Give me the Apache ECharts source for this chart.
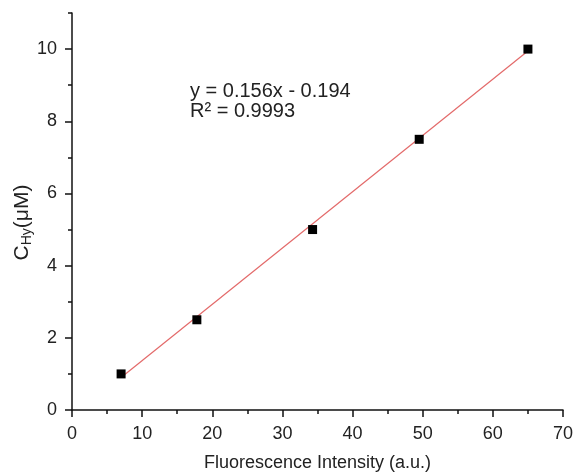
<!DOCTYPE html>
<html>
<head>
<meta charset="utf-8">
<script src="https://cdn.jsdelivr.net/npm/echarts@6/dist/echarts.min.js"></script>
<style>html,body{margin:0;padding:0;background:#fff}#c{width:577px;height:474px}</style>
</head>
<body>
<div id="c"></div>
<script>
const intensity = [7, 17.8, 34.3, 49.5, 65];
const concentration = [1, 2.5, 5, 7.5, 10];
const fitX = [7, 65];
const fitY = [0.898, 9.946];
const xTicks = [0, 10, 20, 30, 40, 50, 60, 70];
const yTicks = [0, 2, 4, 6, 8, 10];
const equationText = 'y = 0.156x - 0.194';
const r2Text = 'R² = 0.9993';

const FONT = '"Liberation Sans", Arial, sans-serif';
const chart = echarts.init(document.getElementById('c'), null, {renderer: 'canvas'});
const axisColor = '#111';
const gridLeft = 72, gridRight = 14, gridTop = 13, gridBottom = 64;
const plotH = 474 - gridTop - gridBottom;

chart.setOption({
  animation: false,
  backgroundColor: '#fff',
  grid: [
    {left: gridLeft, right: gridRight, top: gridTop, bottom: gridBottom, containLabel: false, outerBoundsMode: 'none'},
    {left: gridLeft, right: gridRight, bottom: gridBottom, height: plotH * 10 / 11, containLabel: false, outerBoundsMode: 'none'}
  ],
  xAxis: [
    {
      type: 'value', gridIndex: 0, min: 0, max: 70, interval: 5,
      axisLine: {show: true, lineStyle: {color: axisColor, width: 1.5}},
      axisTick: {show: true, length: 4, lineStyle: {color: axisColor, width: 1.5}},
      axisLabel: {show: false},
      splitLine: {show: false}
    },
    {
      type: 'value', gridIndex: 1, min: xTicks[0], max: xTicks[xTicks.length - 1], interval: 10,
      name: 'Fluorescence Intensity (a.u.)', nameLocation: 'middle', nameGap: 44,
      nameTextStyle: {fontFamily: FONT, fontSize: 18, color: '#222'},
      axisLine: {show: false},
      axisTick: {show: true, length: 7, lineStyle: {color: axisColor, width: 1.5}},
      axisLabel: {fontFamily: FONT, fontSize: 18, color: '#222', margin: 15},
      splitLine: {show: false}
    }
  ],
  yAxis: [
    {
      type: 'value', gridIndex: 0, min: 0, max: 11, interval: 1,
      axisLine: {show: true, lineStyle: {color: axisColor, width: 1.5}},
      axisTick: {show: true, length: 4, lineStyle: {color: axisColor, width: 1.5}},
      axisLabel: {show: false},
      splitLine: {show: false}
    },
    {
      type: 'value', gridIndex: 1, min: yTicks[0], max: yTicks[yTicks.length - 1], interval: 2,
      name: '{c|C}{s|Hy}{c|(μM)}', nameLocation: 'middle', nameGap: 38, nameRotate: 90,
      nameMoveOverlap: false,
      nameTextStyle: {
        padding: [0, 0, 0, 14],
        rich: {
          c: {fontFamily: FONT, fontSize: 21, color: '#222'},
          s: {fontFamily: FONT, fontSize: 14, color: '#222', padding: [9, 0, 0, 0]}
        }
      },
      axisLine: {show: false},
      axisTick: {show: true, length: 7, lineStyle: {color: axisColor, width: 1.5}},
      axisLabel: {fontFamily: FONT, fontSize: 18, color: '#222', margin: 15},
      splitLine: {show: false}
    }
  ],
  series: [
    {
      type: 'line', xAxisIndex: 0, yAxisIndex: 0,
      data: fitX.map((x, i) => [x, fitY[i]]),
      symbol: 'none', lineStyle: {color: '#e36a6a', width: 1.2}, z: 2
    },
    {
      type: 'scatter', xAxisIndex: 0, yAxisIndex: 0,
      data: intensity.map((x, i) => [x, concentration[i]]),
      symbol: 'rect', symbolSize: 9, itemStyle: {color: '#000', opacity: 1}, z: 3
    }
  ],
  graphic: [
    {type: 'text', left: 190, top: 81, style: {text: equationText, font: '20px ' + FONT, fill: '#222'}},
    {type: 'text', left: 190, top: 101, style: {text: r2Text, font: '20px ' + FONT, fill: '#222'}}
  ]
});
</script>
</body>
</html>
